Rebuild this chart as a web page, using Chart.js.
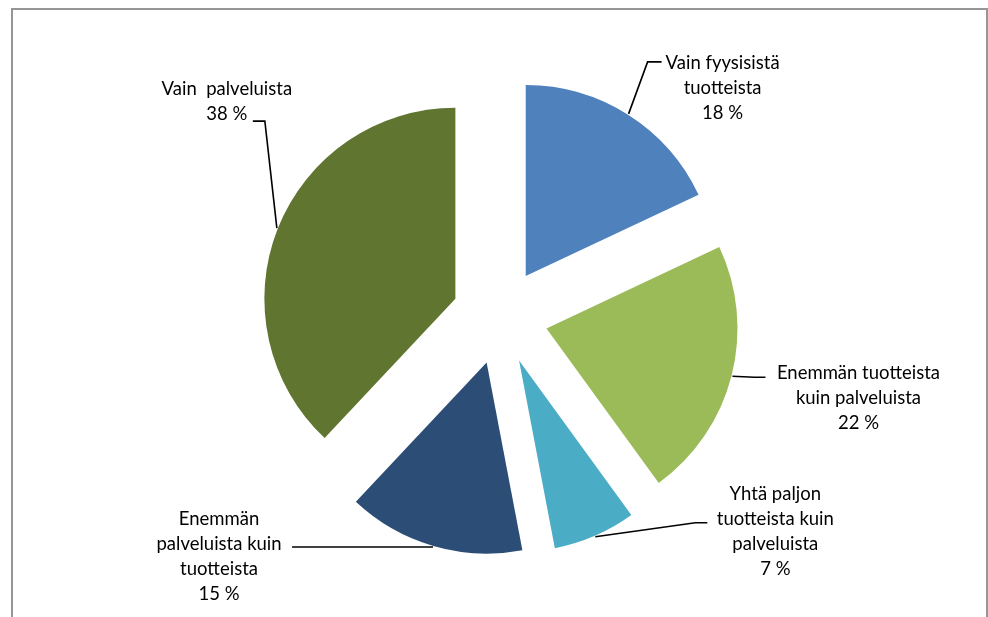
<!DOCTYPE html>
<html>
<head>
<meta charset="utf-8">
<script src="https://cdn.jsdelivr.net/npm/chart.js@4"></script>
<style>
  html, body { margin: 0; padding: 0; background: #fff; }
  #wrap { position: relative; width: 988px; height: 617px; overflow: hidden; }
  #c { position: absolute; left: 0; top: 0; }
  #frame { position: absolute; left: 11px; top: 8px; width: 973px; height: 700px;
           border: 2px solid #969696; pointer-events: none; }
</style>
</head>
<body>
<div id="wrap">
  <canvas id="c" width="988" height="617"></canvas>
  <div id="frame"></div>
</div>
<script>
// ---- data ----
const categories = [
  ["Vain fyysisistä", "tuotteista"],
  ["Enemmän tuotteista", "kuin palveluista"],
  ["Yhtä paljon", "tuotteista kuin", "palveluista"],
  ["Enemmän", "palveluista kuin", "tuotteista"],
  ["Vain  palveluista"]
];
const values = [18, 22, 7, 15, 38];
const percentLabels = ["18 %", "22 %", "7 %", "15 %", "38 %"];
const colors = ["#4F81BD", "#9BBB59", "#4BACC6", "#2C4D75", "#5F7530"];

// ---- styling / layout of callouts (relative to slice edge point) ----
const EXPLODE = 48;
const RADIUS = 191;
const callouts = [
  { elbow: [19, -52], h: 14,   text: [61, 1.5] },
  { elbow: [22, 1],   h: 11,   text: [93, -4] },
  { elbow: [100, -14], h: 12,  text: [68, -29] },
  { elbow: [0, 0],    h: -141, text: [-73, -28] },
  { elbow: [-12, -107], h: -12, text: [-26, -32] }
];
const LINE_H = 25;

const explodePlugin = {
  id: 'explode',
  beforeDatasetDraw(chart, args) {
    const ctx = chart.ctx;
    args.meta.data.forEach(arc => {
      const mid = (arc.startAngle + arc.endAngle) / 2;
      ctx.save();
      ctx.translate(Math.cos(mid) * EXPLODE, Math.sin(mid) * EXPLODE);
      arc.draw(ctx);
      ctx.restore();
    });
    return false;
  }
};

const calloutPlugin = {
  id: 'callouts',
  afterDatasetsDraw(chart) {
    const ctx = chart.ctx;
    const meta = chart.getDatasetMeta(0);
    ctx.save();
    ctx.strokeStyle = '#000';
    ctx.lineWidth = 1.6;
    ctx.fillStyle = '#000';
    ctx.font = '18.5px Lato, "Liberation Sans", sans-serif';
    ctx.textAlign = 'center';
    ctx.textBaseline = 'middle';
    meta.data.forEach((arc, i) => {
      const mid = (arc.startAngle + arc.endAngle) / 2;
      const r = EXPLODE + arc.outerRadius + 1;
      const px = arc.x + Math.cos(mid) * r;
      const py = arc.y + Math.sin(mid) * r;
      const c = callouts[i];
      const ex = px + c.elbow[0], ey = py + c.elbow[1];
      const hx = ex + c.h;
      ctx.beginPath();
      ctx.moveTo(px, py);
      ctx.lineTo(ex, ey);
      ctx.lineTo(hx, ey);
      ctx.stroke();
      const lines = categories[i].concat([percentLabels[i]]);
      const tx = hx + c.text[0];
      let ty = ey + c.text[1];
      lines.forEach(l => { ctx.fillText(l, tx, ty); ty += LINE_H; });
    });
    ctx.restore();
  }
};

new Chart(document.getElementById('c'), {
  type: 'pie',
  data: {
    labels: categories.map(c => c.join(' ')),
    datasets: [{
      data: values,
      backgroundColor: colors,
      borderWidth: 0,
      offset: 0,
      hoverOffset: 0
    }]
  },
  options: {
    responsive: false,
    animation: false,
    devicePixelRatio: 1,
    radius: RADIUS,
    layout: { padding: { left: 12, right: 0, top: 16, bottom: 0 } },
    plugins: {
      legend: { display: false },
      tooltip: { enabled: false }
    },
    events: []
  },
  plugins: [explodePlugin, calloutPlugin]
});
</script>
</body>
</html>
